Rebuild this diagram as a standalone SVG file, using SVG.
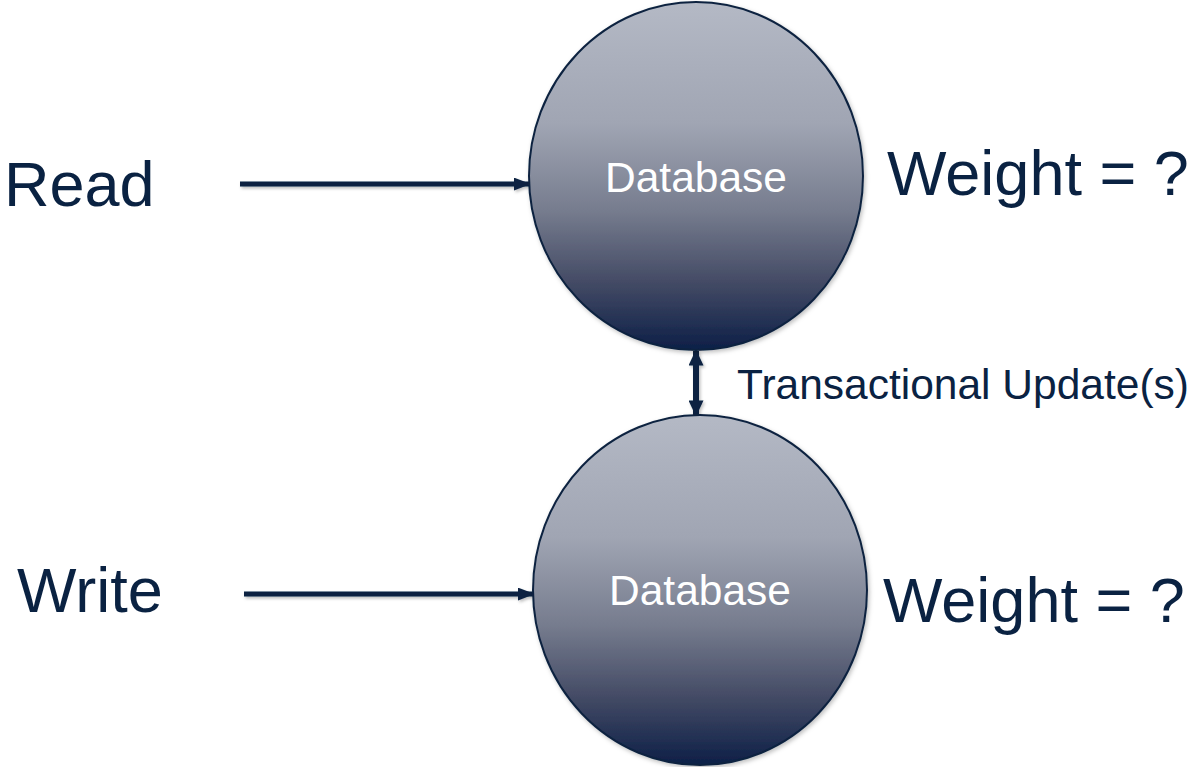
<svg xmlns="http://www.w3.org/2000/svg" width="1190" height="767" viewBox="0 0 1190 767">
  <style>
    .label { font-family: "Liberation Sans", Arial, sans-serif; fill: #0a2242; }
    .big { font-size: 63px; }
    .mid { font-size: 42.5px; }
    .db { font-family: "Liberation Sans", Arial, sans-serif; font-size: 42.5px; fill: #ffffff; text-anchor: middle; }
    .node { stroke: #0c2340; stroke-width: 2; fill: url(#dbFill); filter: url(#soft); }
    .conn { stroke: #0a2242; stroke-width: 5; fill: none; filter: url(#softLine); }
    .conn.thick { stroke-width: 6; }
  </style>
  <defs>
    <linearGradient id="dbFill" x1="0" y1="0" x2="0" y2="1">
      <stop offset="0" stop-color="#b4b9c5"/>
      <stop offset="0.35" stop-color="#a0a5b3"/>
      <stop offset="0.6" stop-color="#767c8e"/>
      <stop offset="0.8" stop-color="#454c66"/>
      <stop offset="1" stop-color="#0d1f47"/>
    </linearGradient>
    <filter id="soft" x="-20%" y="-20%" width="140%" height="140%">
      <feDropShadow dx="1.5" dy="2" stdDeviation="2" flood-color="#000000" flood-opacity="0.25"/>
    </filter>
    <filter id="softLine" filterUnits="userSpaceOnUse" x="0" y="0" width="1190" height="767">
      <feDropShadow dx="1.5" dy="2" stdDeviation="1.5" flood-color="#000000" flood-opacity="0.25"/>
    </filter>
    <marker id="head" viewBox="0 0 10 10" refX="9" refY="5" markerWidth="3.4" markerHeight="2.6" orient="auto-start-reverse" markerUnits="strokeWidth" preserveAspectRatio="none">
      <path d="M0,0 L10,5 L0,10 Z" fill="#0a2242"/>
    </marker>
    <marker id="headV" viewBox="0 0 10 10" refX="9" refY="5" markerWidth="2.7" markerHeight="2.5" orient="auto-start-reverse" markerUnits="strokeWidth" preserveAspectRatio="none">
      <path d="M0,0 L10,5 L0,10 Z" fill="#0a2242"/>
    </marker>
  </defs>

  <!-- connectors -->
  <g id="connectors">
    <line class="conn" x1="240" y1="184" x2="529" y2="184" marker-end="url(#head)"/>
    <line class="conn" x1="244" y1="594" x2="533" y2="594" marker-end="url(#head)"/>
    <line class="conn thick" x1="696" y1="351" x2="696" y2="415" marker-start="url(#headV)" marker-end="url(#headV)"/>
  </g>

  <!-- read side database -->
  <g id="db-read">
    <ellipse class="node" cx="696" cy="176" rx="167" ry="174"/>
    <text class="db" x="696" y="192">Database</text>
  </g>

  <!-- write side database -->
  <g id="db-write">
    <ellipse class="node" cx="700" cy="590" rx="167" ry="175"/>
    <text class="db" x="700" y="605">Database</text>
  </g>

  <!-- labels -->
  <g id="labels">
    <text class="label big" x="4" y="206">Read</text>
    <text class="label big" x="17" y="612">Write</text>
    <text class="label big" x="887" y="195">Weight = ?</text>
    <text class="label big" x="883" y="622">Weight = ?</text>
    <text class="label mid" x="737" y="399">Transactional Update(s)</text>
  </g>
</svg>
